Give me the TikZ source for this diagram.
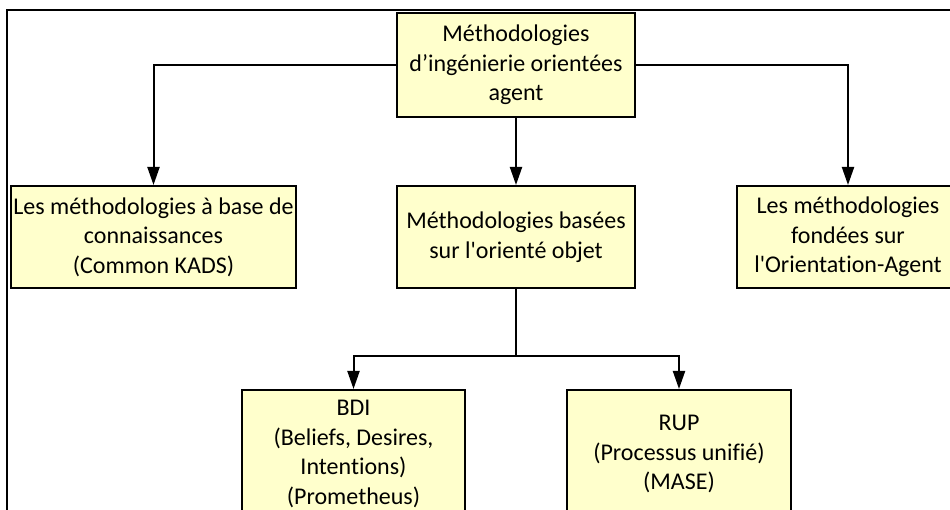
\documentclass[tikz,border=0pt]{standalone}
\usepackage{fontspec}
\setmainfont{Carlito}[Ligatures={TeXOff,NoCommon}]
\usetikzlibrary{arrows.meta}
\definecolor{boxfill}{RGB}{255,255,204}
\begin{document}
\begin{tikzpicture}[x=1bp,y=-1bp,
  box/.style={draw=black, line width=2bp, fill=boxfill, inner sep=0pt,
    align=center, font=\fontsize{24bp}{29.5bp}\selectfont},
  link/.style={line width=2bp, draw=black},
  arr/.style={link, -{Triangle[length=18bp,width=12bp]}},
  frameline/.style={line width=1.4bp, draw=black}]
  \clip (0,0) rectangle (950,510);
  \fill[white] (0,0) rectangle (950,510);

  % outer frame (top and left edges)
  \coordinate (fr) at (950,10);
  \coordinate (fc) at (7,10);
  \coordinate (fb) at (7,512);
  \draw[frameline] (fr) -- (fc) -- (fb);

  % boxes
  \node[box, minimum width=238bp, minimum height=104bp] (top) at (516,65)
    {Méthodologies\\d’ingénierie orientées\\agent};
  \node[box, minimum width=285bp, minimum height=102bp] (left) at (153.5,237)
    {Les méthodologies à base de\\connaissances\\(Common KADS)};
  \node[box, minimum width=238bp, minimum height=102bp] (mid) at (516,237)
    {Méthodologies basées\\sur l'orienté objet};
  \node[box, minimum width=222bp, minimum height=102bp] (right) at (848,237)
    {Les méthodologies\\fondées sur\\l'Orientation-Agent};
  \node[box, minimum width=223bp, minimum height=128bp] (bdi) at (353.5,454)
    {BDI\\(Beliefs, Desires,\\Intentions)\\(Prometheus)};
  \node[box, minimum width=224bp, minimum height=128bp] (rup) at (679,454)
    {RUP\\(Processus unifié)\\(MASE)};

  % connectors
  \draw[arr] (top.west) -| (left.north);
  \draw[arr] (top.east) -| (right.north);
  \draw[arr] (top.south) -- (mid.north);
  \coordinate (split) at (516,356);
  \draw[link] (mid.south) -- (split);
  \draw[arr] (split) -| (bdi.north);
  \draw[arr] (split) -| (rup.north);
\end{tikzpicture}
\end{document}
